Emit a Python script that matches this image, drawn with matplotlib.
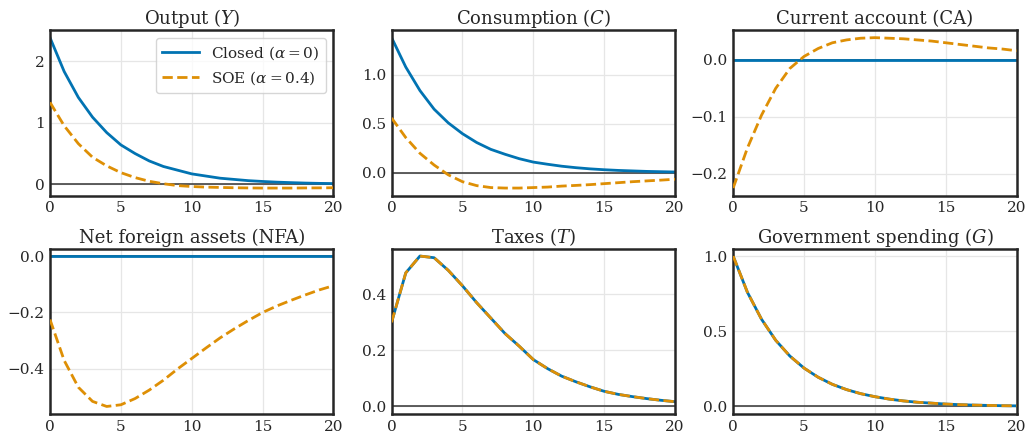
import matplotlib

matplotlib.use("Agg")
import matplotlib.pyplot as plt
import numpy as np

# horizon 0..20
t = np.arange(21)

# impulse responses
Y_closed = [2.38, 1.83, 1.41, 1.09, 0.84, 0.64, 0.50, 0.38, 0.29, 0.23, 0.17,
            0.135, 0.10, 0.08, 0.06, 0.047, 0.036, 0.028, 0.021, 0.016, 0.013]
Y_soe = [1.33, 0.95, 0.66, 0.44, 0.30, 0.19, 0.11, 0.05, 0.01, -0.02, -0.035,
         -0.045, -0.05, -0.055, -0.058, -0.06, -0.06, -0.06, -0.058, -0.057, -0.055]

C_closed = [1.38, 1.08, 0.84, 0.65, 0.51, 0.40, 0.31, 0.24, 0.19, 0.145, 0.11,
            0.088, 0.068, 0.053, 0.041, 0.032, 0.025, 0.02, 0.015, 0.012, 0.009]
C_soe = [0.56, 0.36, 0.20, 0.08, -0.02, -0.09, -0.13, -0.15, -0.155, -0.155, -0.15,
         -0.145, -0.135, -0.128, -0.12, -0.11, -0.10, -0.09, -0.082, -0.074, -0.065]

CA_closed = [0.0] * 21
CA_soe = [-0.225, -0.155, -0.097, -0.05, -0.015, 0.006, 0.02, 0.03, 0.035, 0.038, 0.039,
          0.038, 0.037, 0.035, 0.033, 0.030, 0.027, 0.024, 0.021, 0.019, 0.016]

NFA_closed = [0.0] * 21
NFA_soe = [-0.225, -0.37, -0.465, -0.515, -0.533, -0.527, -0.505, -0.475, -0.44, -0.40, -0.363,
           -0.326, -0.29, -0.258, -0.228, -0.20, -0.177, -0.157, -0.138, -0.12, -0.105]

T_closed = [0.30, 0.476, 0.536, 0.53, 0.485, 0.43, 0.37, 0.315, 0.26, 0.215, 0.167,
            0.135, 0.108, 0.088, 0.07, 0.054, 0.043, 0.035, 0.028, 0.022, 0.017]
T_soe = list(T_closed)

G_closed = [1.0, 0.76, 0.58, 0.44, 0.335, 0.255, 0.194, 0.147, 0.112, 0.085, 0.065,
            0.049, 0.037, 0.028, 0.022, 0.016, 0.012, 0.009, 0.007, 0.005, 0.004]
G_soe = list(G_closed)

titles = ['Output ($Y$)', 'Consumption ($C$)', 'Current account (CA)',
          'Net foreign assets (NFA)', 'Taxes ($T$)', 'Government spending ($G$)']
closed = [Y_closed, C_closed, CA_closed, NFA_closed, T_closed, G_closed]
soe = [Y_soe, C_soe, CA_soe, NFA_soe, T_soe, G_soe]

BLUE = '#0173b2'
ORANGE = '#de8f05'

plt.rcParams['font.family'] = ['DejaVu Serif']
plt.rcParams['mathtext.fontset'] = 'dejavuserif'
plt.rcParams['text.color'] = '#262626'
plt.rcParams['xtick.color'] = '#262626'
plt.rcParams['ytick.color'] = '#262626'

fig, axes = plt.subplots(2, 3, figsize=(10.29, 4.43), dpi=100)
fig.subplots_adjust(left=0.0486, right=0.988, top=0.932, bottom=0.0655,
                    wspace=0.205, hspace=0.32)

for ax, title, yc, ys in zip(axes.flat, titles, closed, soe):
    ax.axhline(0, color='#333333', lw=1.1, zorder=1)
    ax.plot(t, yc, color=BLUE, lw=2, label=r'Closed ($\alpha = 0$)', zorder=2)
    ax.plot(t, ys, color=ORANGE, lw=2, ls='--', label=r'SOE ($\alpha = 0.4$)', zorder=3)
    ax.set_xlim(0, 20)
    ax.set_xticks([0, 5, 10, 15, 20])
    ax.set_title(title, fontsize=13, pad=4)
    ax.grid(color='#e6e6e6', lw=0.9)
    ax.set_axisbelow(True)
    ax.tick_params(length=0, labelsize=11, pad=4)
    for s in ax.spines.values():
        s.set_color('#262626')
        s.set_linewidth(1.8)

axes[0, 0].set_yticks([0, 1, 2])
axes[0, 1].set_yticks([0.0, 0.5, 1.0])
axes[0, 2].set_yticks([-0.2, -0.1, 0.0])
axes[1, 0].set_yticks([-0.4, -0.2, 0.0])
axes[1, 1].set_yticks([0.0, 0.2, 0.4])
axes[1, 2].set_yticks([0.0, 0.5, 1.0])

axes[0, 0].legend(loc='upper right', fontsize=11, frameon=True,
                  edgecolor='#cccccc', fancybox=True, handlelength=2.4)

fig.savefig('out.png', dpi=100, facecolor='white')
